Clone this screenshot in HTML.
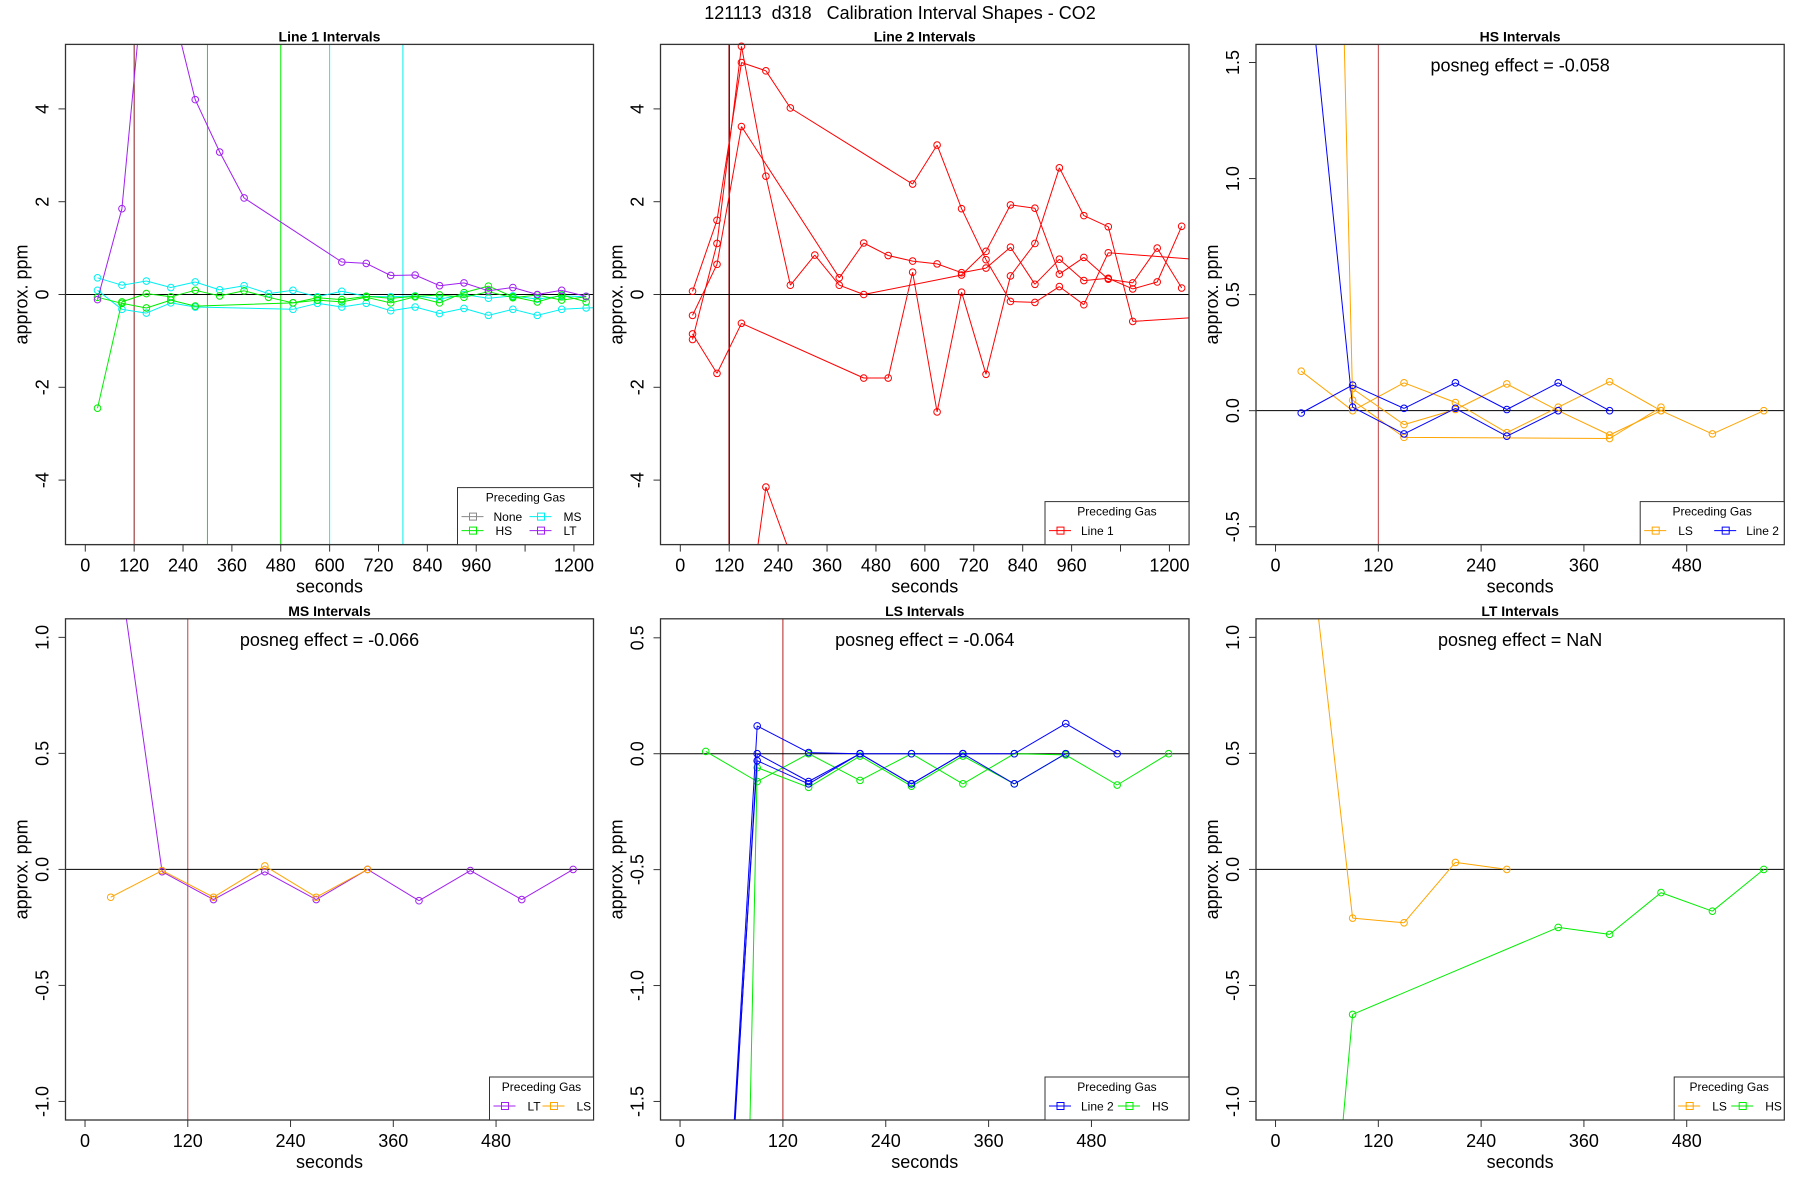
<!DOCTYPE html>
<html><head><meta charset="utf-8"><title>Calibration Interval Shapes - CO2</title>
<style>
html,body{margin:0;padding:0;background:#fff;width:1800px;height:1200px;overflow:hidden;}
svg{display:block;font-family:"Liberation Sans",Arial,sans-serif;}
text{white-space:pre;}
</style></head>
<body>
<svg id="chart" xmlns="http://www.w3.org/2000/svg" width="1800" height="1200" viewBox="0 0 1800 1200">
<rect width="1800" height="1200" fill="#fff"/>
<text x="900" y="19" text-anchor="middle" font-size="18" xml:space="preserve">121113  d318   Calibration Interval Shapes - CO2</text>
</svg>
<script>
// ---------- data ----------
const topTimes = [30,90,150,210,270,330,390,450,510,570,630,690,750,810,870,930,990,1050,1110,1170,1230,1290];
const shortTimes = [30,90,150,210,270,330,390,450,510,570];

// Line 1 Intervals
const l1_LT  = [-0.11,1.85,7.46,6.32,4.2,3.07,2.08,null,null,null,0.7,0.67,0.41,0.42,0.19,0.25,0.08,0.15,0.0,0.09,-0.04,null];
const l1_MS1 = [0.36,0.2,0.29,0.15,0.27,0.1,0.19,0.02,0.09,-0.05,0.07,-0.04,-0.05,-0.03,-0.1,0.0,-0.08,-0.03,-0.1,-0.03,-0.05,null];
const l1_MS2 = [0.09,-0.32,-0.4,-0.18,-0.27,null,null,null,-0.32,-0.19,-0.27,-0.19,-0.35,-0.27,-0.41,-0.3,-0.45,-0.32,-0.45,-0.32,-0.29,-0.28];
const l1_HS1 = [-2.45,-0.16,0.02,-0.05,0.09,-0.03,0.08,-0.06,-0.18,-0.12,-0.16,-0.06,-0.18,-0.05,-0.18,0.04,0.18,-0.05,-0.16,-0.01,-0.16,null];
const l1_HS2 = [-0.06,-0.19,-0.29,-0.12,-0.25,null,null,null,-0.18,-0.07,-0.11,-0.04,-0.08,-0.04,-0.01,-0.06,0.06,-0.07,-0.01,-0.12,-0.05,null];

// Line 2 Intervals
const l2_S1 = [0.07,1.6,5.0,4.82,4.02,null,null,null,null,2.38,3.22,1.85,0.75,-0.15,-0.17,0.17,-0.22,0.9,null,null,null,0.74];
const l2_S2 = [-0.97,1.1,5.35,2.55,0.2,0.85,0.2,0.0,null,null,null,0.42,0.93,1.93,1.86,0.44,0.8,0.33,0.25,1.0,0.14,null];
const l2_S3 = [-0.45,0.65,3.62,null,null,null,0.36,1.11,0.84,0.72,0.66,0.47,0.57,1.02,0.22,0.76,0.3,0.35,0.12,0.27,1.47,null];
const l2_S4 = [-0.85,-1.7,-0.62,null,null,null,null,-1.8,-1.8,0.48,-2.53,0.05,-1.72,0.4,1.1,2.73,1.7,1.46,-0.58,null,null,-0.48];
const l2_S5 = [null,null,-8.0,-4.15,-5.6,null,null,null,null,null,null,null,null,null,null,null,null,null,null,null,null,null];

// HS Intervals
const hs_LS1 = [0.17,0.0,0.12,0.035,-0.095,0.015,0.125,0.0,-0.1,0.0];
const hs_LS2 = [9.5,0.045,-0.115,null,null,null,-0.12,0.015,null,null];
const hs_LS3 = [null,0.095,-0.06,0.005,0.115,0.0,-0.105,0.0,null,null];
const hs_L2a = [-0.01,0.11,0.01,0.12,0.005,0.12,0.0,null,null,null];
const hs_L2b = [2.2,0.015,-0.1,0.01,-0.11,0.0,null,null,null,null];

// MS Intervals
const ms_LT = [1.56,-0.01,-0.13,-0.01,-0.13,0.0,-0.135,-0.005,-0.13,0.0];
const ms_LS = [-0.12,-0.005,-0.12,0.015,-0.12,0.0,null,null,null,null];

// LS Intervals
const ls_L2a = [-3.7,0.12,0.005,0.0,0.0,0.0,0.0,0.13,0.0,null];
const ls_L2b = [-3.7,0.0,-0.12,0.0,-0.13,0.0,-0.13,0.0,null,null];
const ls_L2c = [-3.6,-0.03,-0.13,0.0,-0.13,0.0,null,null,null,null];
const ls_HS1 = [0.01,-0.12,0.0,-0.115,0.0,-0.13,0.0,-0.005,-0.135,0.0];
const ls_HS2 = [-11,-0.06,-0.145,-0.01,-0.14,-0.01,-0.13,0.0,null,null];

// LT Intervals
const lt_LS = [1.74,-0.21,-0.23,0.03,0.0,null,null,null,null,null];
const lt_HS = [-3.09,-0.625,null,null,null,-0.25,-0.28,-0.1,-0.18,0.0];

const topXTicks = [0,120,240,360,480,600,720,840,960,1080,1200];
const topXLabels = ["0","120","240","360","480","600","720","840","960","","1200"];
const shortXTicks = [0,120,240,360,480];
const shortXLabels = ["0","120","240","360","480"];
const bigYTicks = [-4,-2,0,2,4];
const bigYLabels = ["-4","-2","0","2","4"];
const hsYTicks = [-0.5,0,0.5,1,1.5];
const hsYLabels = ["-0.5","0.0","0.5","1.0","1.5"];
const unitYTicks = [-1,-0.5,0,0.5,1];
const unitYLabels = ["-1.0","-0.5","0.0","0.5","1.0"];
const lsYTicks = [-1.5,-1,-0.5,0,0.5];
const lsYLabels = ["-1.5","-1.0","-0.5","0.0","0.5"];

const C = {LT:"#A020F0",MS:"#00F0F0",HS:"#00EE00",LS:"#FFA500",L2:"#0000FF",L1:"#FF0000",None:"#888888"};

// ---------- drawing ----------
const NS="http://www.w3.org/2000/svg";
const svg=document.getElementById('chart');
function mk(tag,attrs,parent){const e=document.createElementNS(NS,tag);for(const k in attrs)e.setAttribute(k,attrs[k]);(parent||svg).appendChild(e);return e;}
function lin(d0,d1,p0,p1){return v=>p0+(v-d0)*(p1-p0)/(d1-d0);}
// Liang-Barsky segment clipping
function clipSeg(x0,y0,x1,y1,L,T,R,B){
  let t0=0,t1=1;const dx=x1-x0,dy=y1-y0;
  const p=[-dx,dx,-dy,dy],q=[x0-L,R-x0,y0-T,B-y0];
  for(let i=0;i<4;i++){
    if(p[i]===0){if(q[i]<0)return null;}
    else{const r=q[i]/p[i];if(p[i]<0){if(r>t1)return null;if(r>t0)t0=r;}else{if(r<t0)return null;if(r<t1)t1=r;}}
  }
  return [x0+t0*dx,y0+t0*dy,x0+t1*dx,y0+t1*dy];
}

function panel(cfg){
  const g=mk('g',{});
  
  
  const sx=lin(cfg.xlim[0],cfg.xlim[1],cfg.L,cfg.R);
  const sy=lin(cfg.ylim[0],cfg.ylim[1],cfg.B,cfg.T);
  const plot=mk('g',{},g);
  cfg.vlines.forEach(v=>{
    const l=mk('line',{x1:sx(v[0]),x2:sx(v[0]),y1:cfg.T,y2:cfg.B,stroke:v[1],'stroke-width':v[2]||1},plot);
    
    
  });
  const z=mk('line',{x1:cfg.L,x2:cfg.R,y1:sy(0),y2:sy(0),stroke:'#000','stroke-width':1},plot);
  
  
  cfg.series.forEach(s=>{
    const sg=mk('g',{},plot);
    
    
    const pts=[];
    s.vals.forEach((v,i)=>{if(v!==null&&v!==undefined)pts.push([sx(cfg.times[i]),sy(v)]);});
    let d='';
    for(let i=1;i<pts.length;i++){
      const c=clipSeg(pts[i-1][0],pts[i-1][1],pts[i][0],pts[i][1],cfg.L,cfg.T,cfg.R,cfg.B);
      if(c)d+='M'+c[0].toFixed(1)+','+c[1].toFixed(1)+'L'+c[2].toFixed(1)+','+c[3].toFixed(1);
    }
    if(d)mk('path',{d:d,fill:'none',stroke:s.color,'stroke-width':1},sg);
    pts.forEach(p=>{
      if(p[0]<cfg.L||p[0]>cfg.R||p[1]<cfg.T||p[1]>cfg.B)return;
      const c=mk('circle',{cx:p[0],cy:p[1],r:3.3,fill:'none',stroke:s.color,'stroke-width':1},sg);
      
      
    });
  });
  const box=mk('rect',{x:cfg.L,y:cfg.T,width:cfg.R-cfg.L,height:cfg.B-cfg.T,fill:'none',stroke:'#333','stroke-width':1.3},g);
  
  
  const xa=mk('g',{},g);
  
  
  mk('line',{x1:sx(cfg.xt[0]),x2:sx(cfg.xt[cfg.xt.length-1]),y1:cfg.B,y2:cfg.B,stroke:'#333','stroke-width':1},xa);
  cfg.xt.forEach((t,i)=>{
    const x=sx(t);
    mk('line',{x1:x,x2:x,y1:cfg.B,y2:cfg.B+7,stroke:'#333','stroke-width':1},xa);
    if(cfg.xl[i]){const tx=mk('text',{x:x,y:cfg.B+27,'text-anchor':'middle','font-size':18},xa);tx.textContent=cfg.xl[i];
      
      }
  });
  const xt=mk('text',{x:(cfg.L+cfg.R)/2,y:cfg.B+48,'text-anchor':'middle','font-size':18},g);
  xt.textContent='seconds';
  
  
  const ya=mk('g',{},g);
  
  
  mk('line',{x1:cfg.L,x2:cfg.L,y1:sy(cfg.yt[0]),y2:sy(cfg.yt[cfg.yt.length-1]),stroke:'#333','stroke-width':1},ya);
  cfg.yt.forEach((t,i)=>{
    const y=sy(t);
    mk('line',{x1:cfg.L-7,x2:cfg.L,y1:y,y2:y,stroke:'#333','stroke-width':1},ya);
    const tx=mk('text',{x:0,y:0,'text-anchor':'middle','font-size':18,transform:'translate('+(cfg.L-17)+','+y+') rotate(-90)'},ya);
    tx.textContent=cfg.yl[i];
    
    
  });
  const yt=mk('text',{x:0,y:0,'text-anchor':'middle','font-size':18,transform:'translate('+(cfg.L-38)+','+((cfg.T+cfg.B)/2)+') rotate(-90)'},g);
  yt.textContent='approx. ppm';
  
  
  const ti=mk('text',{x:(cfg.L+cfg.R)/2,y:cfg.T-3,'text-anchor':'middle','font-size':14,'font-weight':'bold'},g);
  ti.textContent=cfg.title;
  
  
  if(cfg.posneg){
    const pn=mk('text',{x:(cfg.L+cfg.R)/2,y:cfg.T+27,'text-anchor':'middle','font-size':18},g);
    pn.textContent=cfg.posneg;
    
    
  }
  const lg=mk('g',{},g);
  
  
  const lw=cfg.legW, rows=Math.ceil(cfg.legend.length/2);
  const lh=rows===2?57:43;
  const lx=cfg.R-lw, ly=cfg.B-lh;
  mk('rect',{x:lx,y:ly,width:lw,height:lh,fill:'#fff',stroke:'#333','stroke-width':1},lg);
  const lt=mk('text',{x:lx+lw/2,y:ly+14,'text-anchor':'middle','font-size':12},lg);
  lt.textContent='Preceding Gas';
  cfg.legend.forEach((e,i)=>{
    const col=i%2,row=Math.floor(i/2);
    const x0=lx+4+col*cfg.legCol, y0=ly+29+row*14;
    const it=mk('g',{},lg);
    
    
    mk('line',{x1:x0,x2:x0+22,y1:y0,y2:y0,stroke:e[1],'stroke-width':1},it);
    mk('rect',{x:x0+8,y:y0-3.5,width:7,height:7,fill:'none',stroke:e[1],'stroke-width':1},it);
    const t=mk('text',{x:x0+(e[0].length>3?32:34),y:y0+4.5,'font-size':12},it);
    t.textContent=e[0];
  });
}

const TOP={T:44.4,B:544.6}, BOT={T:618.8,B:1120};
const COL=[{L:65.5,R:593.5},{L:660.5,R:1189},{L:1256,R:1784.2}];

panel({name:'panel-line1-intervals',title:'Line 1 Intervals',L:COL[0].L,R:COL[0].R,T:TOP.T,B:TOP.B,
  xlim:[-48.6,1248],ylim:[-5.39,5.39],times:topTimes,xt:topXTicks,xl:topXLabels,yt:bigYTicks,yl:bigYLabels,
  vlines:[[120,'#8B1A1A'],[300,'#00EE00'],[480,'#00EE00'],[600,'#00F0F0'],[780,'#00F0F0']],
  series:[{label:'MS 1',color:C.MS,vals:l1_MS1},{label:'MS 2',color:C.MS,vals:l1_MS2},
          {label:'HS 1',color:C.HS,vals:l1_HS1},{label:'HS 2',color:C.HS,vals:l1_HS2},{label:'LT',color:C.LT,vals:l1_LT}],
  legW:136,legCol:68,legend:[['None',C.None],['MS',C.MS],['HS',C.HS],['LT',C.LT]]});

panel({name:'panel-line2-intervals',title:'Line 2 Intervals',L:COL[1].L,R:COL[1].R,T:TOP.T,B:TOP.B,
  xlim:[-48.6,1248],ylim:[-5.39,5.39],times:topTimes,xt:topXTicks,xl:topXLabels,yt:bigYTicks,yl:bigYLabels,
  vlines:[[120,'#8B0000',1.5]],
  series:[{label:'Line 1 a',color:C.L1,vals:l2_S1},{label:'Line 1 b',color:C.L1,vals:l2_S2},{label:'Line 1 c',color:C.L1,vals:l2_S3},
          {label:'Line 1 d',color:C.L1,vals:l2_S4},{label:'Line 1 e',color:C.L1,vals:l2_S5}],
  legW:144,legCol:70,legend:[['Line 1',C.L1]]});

panel({name:'panel-hs-intervals',title:'HS Intervals',posneg:'posneg effect = -0.058',L:COL[2].L,R:COL[2].R,T:TOP.T,B:TOP.B,
  xlim:[-22.8,593.8],ylim:[-0.577,1.578],times:shortTimes,xt:shortXTicks,xl:shortXLabels,yt:hsYTicks,yl:hsYLabels,
  vlines:[[120,'#C04040']],
  series:[{label:'LS 1',color:C.LS,vals:hs_LS1},{label:'LS 2',color:C.LS,vals:hs_LS2},{label:'LS 3',color:C.LS,vals:hs_LS3},
          {label:'Line 2 a',color:C.L2,vals:hs_L2a},{label:'Line 2 b',color:C.L2,vals:hs_L2b}],
  legW:144,legCol:70,legend:[['LS',C.LS],['Line 2',C.L2]]});

panel({name:'panel-ms-intervals',title:'MS Intervals',posneg:'posneg effect = -0.066',L:COL[0].L,R:COL[0].R,T:BOT.T,B:BOT.B,
  xlim:[-22.8,593.8],ylim:[-1.08,1.08],times:shortTimes,xt:shortXTicks,xl:shortXLabels,yt:unitYTicks,yl:unitYLabels,
  vlines:[[120,'#C04040']],
  series:[{label:'LT',color:C.LT,vals:ms_LT},{label:'LS',color:C.LS,vals:ms_LS}],
  legW:104,legCol:49,legend:[['LT',C.LT],['LS',C.LS]]});

panel({name:'panel-ls-intervals',title:'LS Intervals',posneg:'posneg effect = -0.064',L:COL[1].L,R:COL[1].R,T:BOT.T,B:BOT.B,
  xlim:[-22.8,593.8],ylim:[-1.58,0.582],times:shortTimes,xt:shortXTicks,xl:shortXLabels,yt:lsYTicks,yl:lsYLabels,
  vlines:[[120,'#B22222']],
  series:[{label:'HS 1',color:C.HS,vals:ls_HS1},{label:'HS 2',color:C.HS,vals:ls_HS2},
          {label:'Line 2 a',color:C.L2,vals:ls_L2a},{label:'Line 2 b',color:C.L2,vals:ls_L2b},{label:'Line 2 c',color:C.L2,vals:ls_L2c}],
  legW:144,legCol:69,legend:[['Line 2',C.L2],['HS',C.HS]]});

panel({name:'panel-lt-intervals',title:'LT Intervals',posneg:'posneg effect = NaN',L:COL[2].L,R:COL[2].R,T:BOT.T,B:BOT.B,
  xlim:[-22.8,593.8],ylim:[-1.08,1.08],times:shortTimes,xt:shortXTicks,xl:shortXLabels,yt:unitYTicks,yl:unitYLabels,
  vlines:[],
  series:[{label:'LS',color:C.LS,vals:lt_LS},{label:'HS',color:C.HS,vals:lt_HS}],
  legW:110,legCol:53,legend:[['LS',C.LS],['HS',C.HS]]});
</script>
</body></html>
